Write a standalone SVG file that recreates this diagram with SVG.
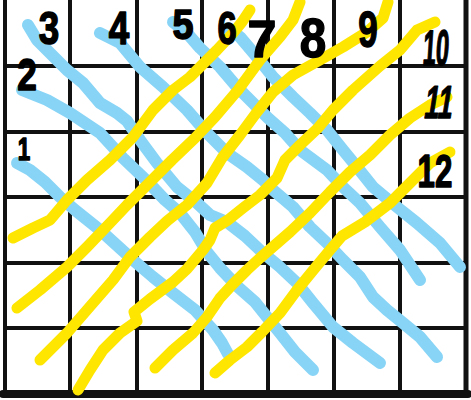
<svg xmlns="http://www.w3.org/2000/svg" width="471" height="400" viewBox="0 0 471 400">
<style>
.grid{stroke:#111;stroke-width:4;fill:none}
.blue{stroke:#87d4f6;stroke-width:12;fill:none;stroke-linecap:round;stroke-linejoin:round}
.yel{stroke:#ffe600;stroke-width:11;fill:none;stroke-linecap:round;stroke-linejoin:round}
.num{font-family:"Liberation Sans",Arial,sans-serif;font-weight:bold;fill:#000;stroke:#000;stroke-width:1.5;stroke-linejoin:round;text-anchor:middle}
</style>
<rect width="471" height="400" fill="#fff"/>
<g id="grid" class="grid">
<path d="M5 0V394M70 0V394M137 0V394M202 0V394M268 0V394M334 0V394M400 0V394"/>
<path d="M466 0V394" stroke-width="5"/>
<path d="M5 66H466M5 132H466M5 197H466M5 263H466M5 328H466"/>
<path d="M3 394H468" stroke-width="8" stroke-linecap="round"/>
</g>
<g id="blue-lines">
<polyline class="blue" points="17,163 30,170 45,182 60,197 75,210 100,230 133,260 153,277 173,293 195,310 213,330 222,343 228,354"/>
<polyline class="blue" points="22,90 47,100 70,113 100,133 123,158 147,181 165,200 180,213 195,232 207,252 220,268 238,287 255,302 267,317 280,333 295,352 313,370"/>
<polyline class="blue" points="28,25 37,40 50,53 67,70 83,83 100,103 117,113 127,121 140,140 157,163 177,187 197,203 210,215 227,222 245,236 262,252 280,267 297,283 313,303 333,327 353,343 380,363"/>
<polyline class="blue" points="100,33 120,43 140,67 163,87 187,110 207,133 227,153 247,167 263,180 273,190 293,207 310,227 327,243 343,260 360,277 373,297 387,310 403,323 420,337 437,357"/>
<polyline class="blue" points="173,22 187,33 200,48 220,67 237,87 253,103 268,118 285,133 300,150 327,170 343,187 360,203 380,227 400,250 420,280"/>
<polyline class="blue" points="228,28 240,37 257,57 273,77 293,97 310,113 327,130 343,150 357,167 373,187 397,207 417,223 440,243 460,267"/>
</g>
<g id="yellow-lines">
<polyline class="yel" points="13,238 33,228 50,220 67,200 87,180 110,160 133,137 153,110 173,90 190,77 203,64 217,50 233,33 242,22 250,10"/>
<polyline class="yel" points="17,308 40,290 67,267 87,247 110,223 127,205 150,182 172,160 195,138 215,117 238,90 260,60 280,37 293,20 300,2"/>
<polyline class="yel" points="40,360 67,333 93,303 113,280 130,257 150,237 167,221 187,205 207,183 222,158 240,135 257,112 273,92 293,75 320,60 343,47 367,32 383,18 388,2"/>
<polyline class="yel" points="78,390 90,370 103,350 120,333 137,321 134,312 150,299 173,282 187,269 203,250 210,240 215,228 228,220 243,208 260,195 277,178 285,160 300,145 318,128 333,110 353,90 380,66 400,50 417,30 435,22"/>
<polyline class="yel" points="155,368 173,350 193,333 207,317 220,298 232,285 247,270 260,258 275,245 290,232 310,213 330,192 350,172 370,155 390,135 410,118 430,105 447,97"/>
<polyline class="yel" points="215,373 230,360 247,347 262,332 280,313 297,290 315,268 330,250 342,236 365,222 390,203 413,180 430,163 450,152"/>
</g>
<g id="labels">
<text class="num" font-size="32" transform="translate(24,160) scale(0.7,1)">1</text>
<text class="num" font-size="44" transform="translate(27,90) scale(0.8,1)">2</text>
<text class="num" font-size="46" transform="translate(49,44) scale(0.8,1)">3</text>
<text class="num" font-size="46" transform="translate(119,44) scale(0.8,1)">4</text>
<text class="num" font-size="42" transform="translate(183,39) scale(0.9,1)">5</text>
<text class="num" font-size="46" transform="translate(227,44) scale(0.75,1)">6</text>
<text class="num" font-size="52" transform="translate(262,57) scale(1,1)">7</text>
<text class="num" font-size="56" transform="translate(313,57) scale(0.85,1)">8</text>
<text class="num" font-size="50" transform="translate(368,47) scale(0.7,1)">9</text>
<text class="num" font-size="50" transform="translate(435,65) scale(0.47,1) skewX(-8)">10</text>
<text class="num" font-size="46" transform="translate(437,118) scale(0.58,1) skewX(-15)">11</text>
<text class="num" font-size="46" transform="translate(435,187) scale(0.68,1)">12</text>
</g>
</svg>
